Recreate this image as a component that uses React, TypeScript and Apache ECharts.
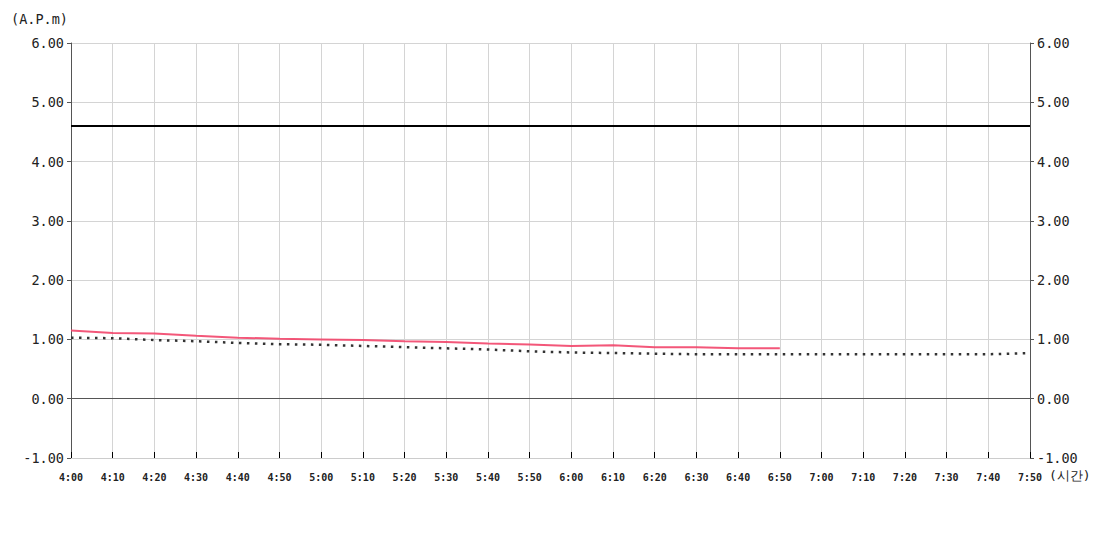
import React, { useEffect, useRef } from "react";
import * as echarts from "echarts";

const times = [
  "4:00", "4:10", "4:20", "4:30", "4:40", "4:50",
  "5:00", "5:10", "5:20", "5:30", "5:40", "5:50",
  "6:00", "6:10", "6:20", "6:30", "6:40", "6:50",
  "7:00", "7:10", "7:20", "7:30", "7:40", "7:50",
];

const measured = [
  1.15, 1.11, 1.10, 1.06, 1.03, 1.01,
  1.00, 0.99, 0.97, 0.955, 0.93, 0.915,
  0.89, 0.90, 0.87, 0.87, 0.85, 0.85,
];

const reference = [
  1.03, 1.02, 0.99, 0.97, 0.94, 0.92,
  0.91, 0.89, 0.87, 0.85, 0.83, 0.80,
  0.78, 0.77, 0.76, 0.75, 0.75, 0.75,
  0.75, 0.75, 0.75, 0.75, 0.75, 0.77,
];

const threshold = 4.6;
const yMin = -1;
const yMax = 6;
const yInterval = 1;

const FONT = "'DejaVu Sans Mono', monospace";

export default function App() {
  const ref = useRef<HTMLDivElement>(null);
  useEffect(() => {
    if (!ref.current) return;
    const chart = echarts.init(ref.current, undefined, { renderer: "svg" });
    const yAxisCommon = {
      type: "value",
      min: yMin,
      max: yMax,
      interval: yInterval,
      axisLine: { show: true, lineStyle: { color: "#555", width: 1 } },
      axisTick: { show: true, length: 4, lineStyle: { color: "#555" } },
      axisLabel: {
        formatter: (v: number) => v.toFixed(2),
        fontFamily: FONT,
        fontSize: 13.5,
        color: "#222",
        margin: 7,
      },
    };
    chart.setOption({
      animation: false,
      grid: { left: 71, right: 70, top: 43, bottom: 92 },
      xAxis: {
        type: "category",
        data: times,
        boundaryGap: false,
        axisLine: { show: true, onZero: false, lineStyle: { color: "#ccc" } },
        axisTick: { show: true, inside: true, length: 6, alignWithLabel: true, lineStyle: { color: "#000" } },
        axisLabel: {
          interval: 0,
          fontFamily: FONT,
          fontSize: 10,
          fontWeight: "bold",
          color: "#222",
          margin: 14,
        },
        splitLine: { show: true, lineStyle: { color: "#d4d4d4" } },
      },
      yAxis: [
        {
          ...yAxisCommon,
          position: "left",
          splitLine: { show: true, lineStyle: { color: "#d4d4d4" } },
        },
        {
          ...yAxisCommon,
          position: "right",
          splitLine: { show: false },
        },
      ],
      graphic: [
        {
          type: "text",
          left: 11,
          top: 12,
          style: { text: "(A.P.m)", font: `13.5px ${FONT}`, fill: "#222" },
        },
        {
          type: "text",
          left: 1049,
          top: 469,
          style: { text: "(시간)", font: `13px ${FONT}`, fill: "#222" },
        },
      ],
      series: [
        {
          name: "reference",
          type: "line",
          data: reference,
          symbol: "none",
          lineStyle: { color: "#333", width: 2.5, type: [2.5, 5.5] },
          z: 3,
        },
        {
          name: "measured",
          type: "line",
          data: measured,
          symbol: "none",
          lineStyle: { color: "#f2456a", width: 2, opacity: 0.9 },
          z: 4,
          markLine: {
            silent: true,
            symbol: "none",
            label: { show: false },
            data: [
              { yAxis: 0, lineStyle: { color: "#555", width: 1, type: "solid" } },
              { yAxis: threshold, lineStyle: { color: "#000", width: 2, type: "solid" } },
            ],
          },
        },
      ],
    });
    return () => chart.dispose();
  }, []);
  return <div ref={ref} style={{ width: 1100, height: 550, margin: -8 }} />;
}
